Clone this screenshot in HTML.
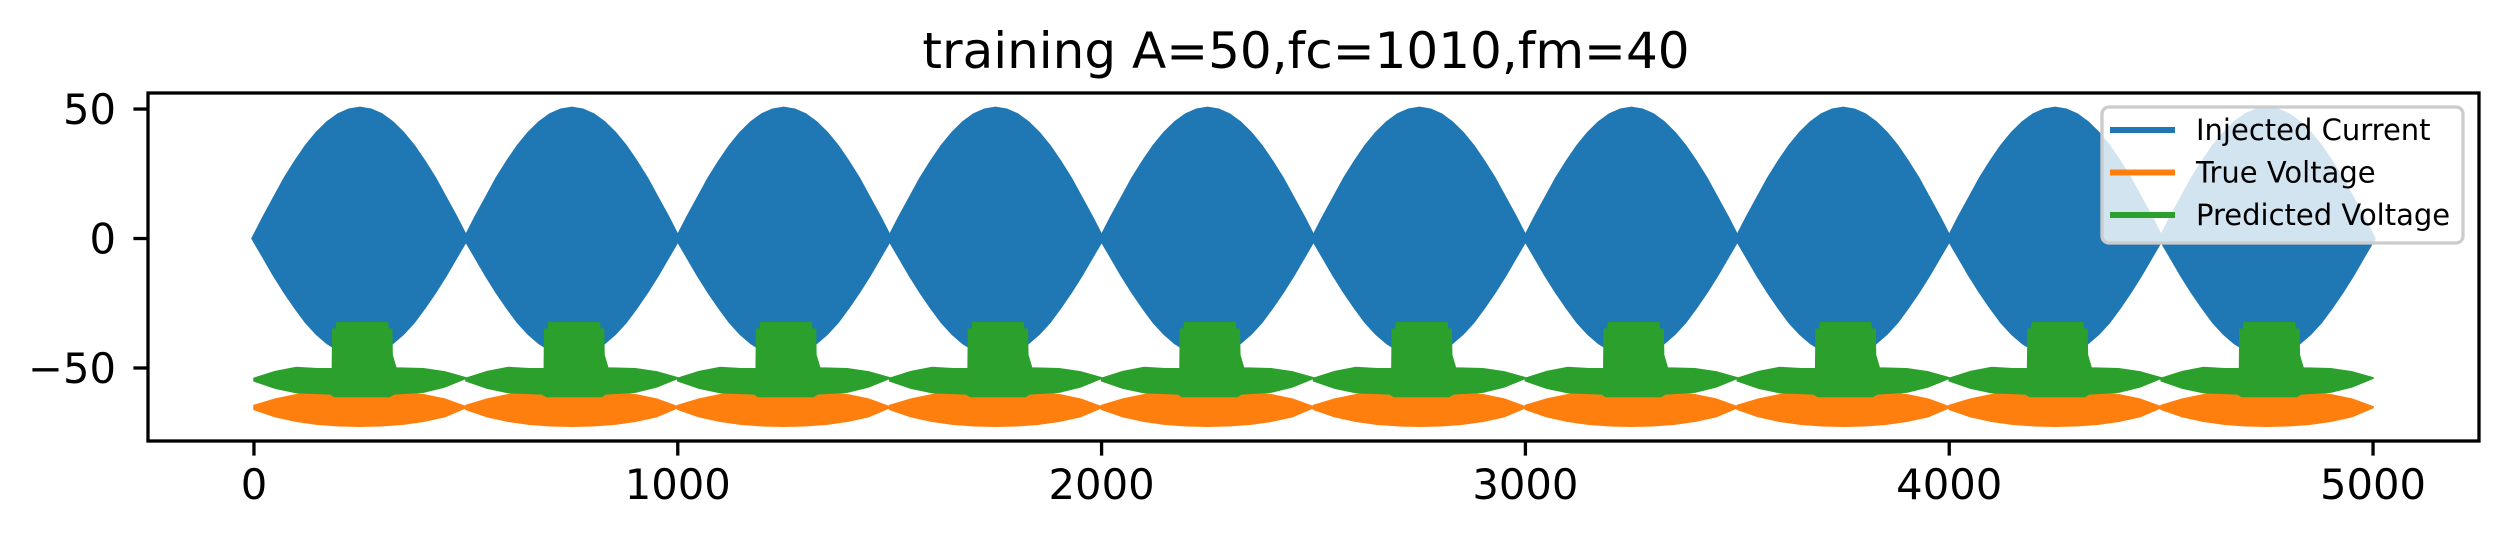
<!DOCTYPE html>
<html><head><meta charset="utf-8"><style>
html,body{margin:0;padding:0;background:#fff;}
svg{display:block;font-family:"DejaVu Sans","Liberation Sans",sans-serif;}
</style></head><body>
<svg id="chart" width="2502" height="540" viewBox="0 0 2502 540" xmlns="http://www.w3.org/2000/svg">
<rect width="2502" height="540" fill="#fff"/>
<text x="1306" y="68" font-size="50" text-anchor="middle">training A=50,fc=1010,fm=40</text>
<g id="plot"></g>
<g id="axes"></g>
<g id="legend"></g>
</svg>
<script>
// ---- data ----
const cycleStarts = [0,500,1000,1500,2000,2500,3000,3500,4000,4500];
const blueX = [0,25,50,75,100,125,150,175,200,225,250,275,300,325,350,375,400,425,450,475,500];
const blueUpper = [0,8,15.5,23,29.5,35.5,40.5,44.5,47.5,49.3,50,49.3,47.5,44.5,40.5,35.5,29.5,23,15.5,8,0];
const blueLower = [0,-7,-14,-20.5,-26.5,-32,-36.5,-40,-42.5,-44.2,-45,-44.2,-42.5,-40,-36.5,-32,-26.5,-20.5,-14,-7,0];
const orangeX = [0,50,100,150,200,250,300,350,400,450,500];
const orangeUpper = [-64.5,-62,-60.3,-59.2,-59.3,-59,-58.8,-59.2,-60.3,-62,-65];
const orangeLower = [-66,-68.8,-70.6,-71.7,-72.3,-72.5,-72.3,-71.7,-70.6,-68.8,-65.3];
const greenUX = [0,50,100,150,185,186,195,196,315,316,325,326,335,400,450,500];
const greenUpper = [-54,-51.4,-49.8,-50.3,-50.3,-35,-35,-32.5,-32.5,-35,-35,-45,-50,-50.3,-51.5,-53.8];
const greenLX = [0,50,100,180,190,320,330,400,450,500];
const greenLower = [-55,-57.8,-59.5,-60,-61,-61,-60,-59.3,-57.3,-54];
const xTicks = [0,1000,2000,3000,4000,5000];
const yTicks = [50,0,-50];
const yTickLabels = ["50","0","\u221250"];
const legendLabels = ["Injected Current","True Voltage","Predicted Voltage"];
const colors = ["#1f77b4","#ff7f0e","#2ca02c"];

// ---- axes functions ----
const L=148,R=2479,T=93,B=441;
const xMin=-250,xMax=5250,yMin=-78.2,yMax=56.2;
const sx=v=>L+(v-xMin)/(xMax-xMin)*(R-L);
const sy=v=>B-(v-yMin)/(yMax-yMin)*(B-T);
const NS="http://www.w3.org/2000/svg";
const plot=document.getElementById('plot');
const axes=document.getElementById('axes');
const legend=document.getElementById('legend');
function mk(tag,attrs,parent){const e=document.createElementNS(NS,tag);for(const k in attrs)e.setAttribute(k,attrs[k]);parent.appendChild(e);return e;}

function band(xs1,up,xs2,lo,start){
  let pts=[];
  for(let i=0;i<xs1.length;i++)pts.push(sx(start+xs1[i]).toFixed(1)+','+sy(up[i]).toFixed(1));
  for(let i=xs2.length-1;i>=0;i--)pts.push(sx(start+xs2[i]).toFixed(1)+','+sy(lo[i]).toFixed(1));
  return pts.join(' ');
}
const series=[
  {name:'injected-current',c:colors[0],ux:blueX,u:blueUpper,lx:blueX,l:blueLower,w:5},
  {name:'true-voltage',c:colors[1],ux:orangeX,u:orangeUpper,lx:orangeX,l:orangeLower,w:1.5},
  {name:'predicted-voltage',c:colors[2],ux:greenUX,u:greenUpper,lx:greenLX,l:greenLower,w:1.5}
];
series.forEach(s=>{
  const g=mk('g',{},plot);
  
  
  cycleStarts.forEach((c,i)=>{
    const p=mk('polygon',{points:band(s.ux,s.u,s.lx,s.l,c),fill:s.c,stroke:s.c,'stroke-width':s.w,'stroke-linejoin':'miter'},g);
    
    
  });
});

// frame
const fr=mk('rect',{x:L,y:T,width:R-L,height:B-T,fill:'none',stroke:'#000','stroke-width':3.3},axes);


xTicks.forEach(v=>{
  const x=sx(v);
  const t=mk('line',{x1:x,x2:x,y1:B,y2:B+14.6,stroke:'#000','stroke-width':3.3},axes);
  
  
  const tx=mk('text',{x:x,y:499,'font-size':41.7,'text-anchor':'middle'},axes);
  tx.textContent=String(v);
  
  
});
yTicks.forEach((v,i)=>{
  const y=sy(v);
  const t=mk('line',{x1:L-14.6,x2:L,y1:y,y2:y,stroke:'#000','stroke-width':3.3},axes);
  
  
  const tx=mk('text',{x:116,y:y+15,'font-size':41.7,'text-anchor':'end'},axes);
  tx.textContent=yTickLabels[i];
  
  
});

// legend
const lb=mk('rect',{x:2102,y:107,width:361,height:136,rx:7,fill:'#fff','fill-opacity':0.8,stroke:'#cccccc','stroke-width':3.3},legend);


legendLabels.forEach((lab,i)=>{
  const y=130+i*42.5;
  const ln=mk('line',{x1:2110,x2:2175,y1:y,y2:y,stroke:colors[i],'stroke-width':6},legend);
  
  
  const tx=mk('text',{x:2196,y:y+10,'font-size':29},legend);
  tx.textContent=lab;
  
  
});
</script>
</body></html>
